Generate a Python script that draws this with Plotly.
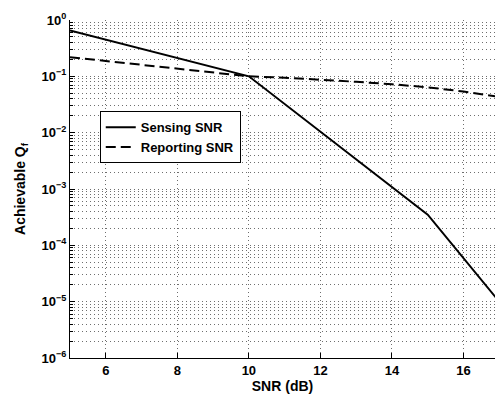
import plotly.graph_objects as go

# SNR sweep (dB) and achievable false-alarm probability Q_f
snr_sensing = [5, 10, 15, 17]
qf_sensing = [0.65, 0.1, 3.5e-4, 1.0e-5]

snr_reporting = [5, 6, 7, 8, 9, 10, 11, 12, 13, 14, 15, 16, 17]
qf_reporting = [0.219, 0.187, 0.160, 0.137, 0.117, 0.100, 0.0944, 0.088,
                0.080, 0.0724, 0.0638, 0.0537, 0.0432]

series_names = ["Sensing SNR", "Reporting SNR"]

x_ticks = [6, 8, 10, 12, 14, 16]
y_exponents = [0, -1, -2, -3, -4, -5, -6]
y_ticks = [10.0 ** e for e in y_exponents]
y_ticktext = ["10<sup>%s</sup>" % (str(e).replace("-", "\u2212")) for e in y_exponents]
y_minor = [m * 10.0 ** e for e in range(-6, 0) for m in range(2, 10)]

FONT = "Liberation Sans, Arial, sans-serif"
GRID = "rgb(110,110,110)"

fig = go.Figure()
fig.add_trace(go.Scatter(x=snr_sensing, y=qf_sensing, mode="lines",
                         name=series_names[0],
                         line=dict(color="black", width=2)))
fig.add_trace(go.Scatter(x=snr_reporting, y=qf_reporting, mode="lines",
                         name=series_names[1],
                         line=dict(color="black", width=2, dash="10px,5px")))

fig.update_layout(
    width=495, height=397,
    margin=dict(l=70, r=0, t=20, b=39),
    paper_bgcolor="white", plot_bgcolor="white",
    font=dict(family=FONT, color="black", size=13, weight="bold"),
    showlegend=True,
    legend=dict(x=0.07, y=0.73, xanchor="left", yanchor="top",
                bgcolor="white", bordercolor="black", borderwidth=1,
                font=dict(size=13, weight="bold"),
                tracegroupgap=0, itemwidth=30),
    xaxis=dict(
        range=[5, 16.88], tickvals=x_ticks, ticks="inside", ticklen=5,
        tickcolor="black", showline=True, linecolor="black", linewidth=1,
        showgrid=True, gridcolor=GRID, griddash="1px,3px", gridwidth=1,
        zeroline=False, tickfont=dict(size=13, weight="bold"),
        title=dict(text="SNR (dB)", font=dict(size=14, weight="bold"),
                   standoff=1),
    ),
    xaxis2=dict(
        overlaying="x", matches="x", side="top", range=[5, 16.88],
        tickvals=x_ticks, ticks="inside", ticklen=5, tickcolor="black",
        showline=True, linecolor="black", linewidth=1,
        showticklabels=False, showgrid=False, zeroline=False,
    ),
    yaxis=dict(
        type="log", range=[-6, 0], tickvals=y_ticks, ticktext=y_ticktext,
        ticks="inside", ticklen=5, tickcolor="black",
        showline=True, linecolor="black", linewidth=1,
        showgrid=True, gridcolor=GRID, griddash="1px,3px", gridwidth=1,
        zeroline=False, tickfont=dict(size=13, weight="bold"),
        minor=dict(tickvals=y_minor, ticks="inside", ticklen=3,
                   tickcolor="black", showgrid=True, gridcolor=GRID,
                   griddash="1px,3px", gridwidth=1),
        title=dict(text="Achievable Q<sub>f</sub>",
                   font=dict(size=14, weight="bold"), standoff=12),
    ),
)

fig.write_html("out.html")
